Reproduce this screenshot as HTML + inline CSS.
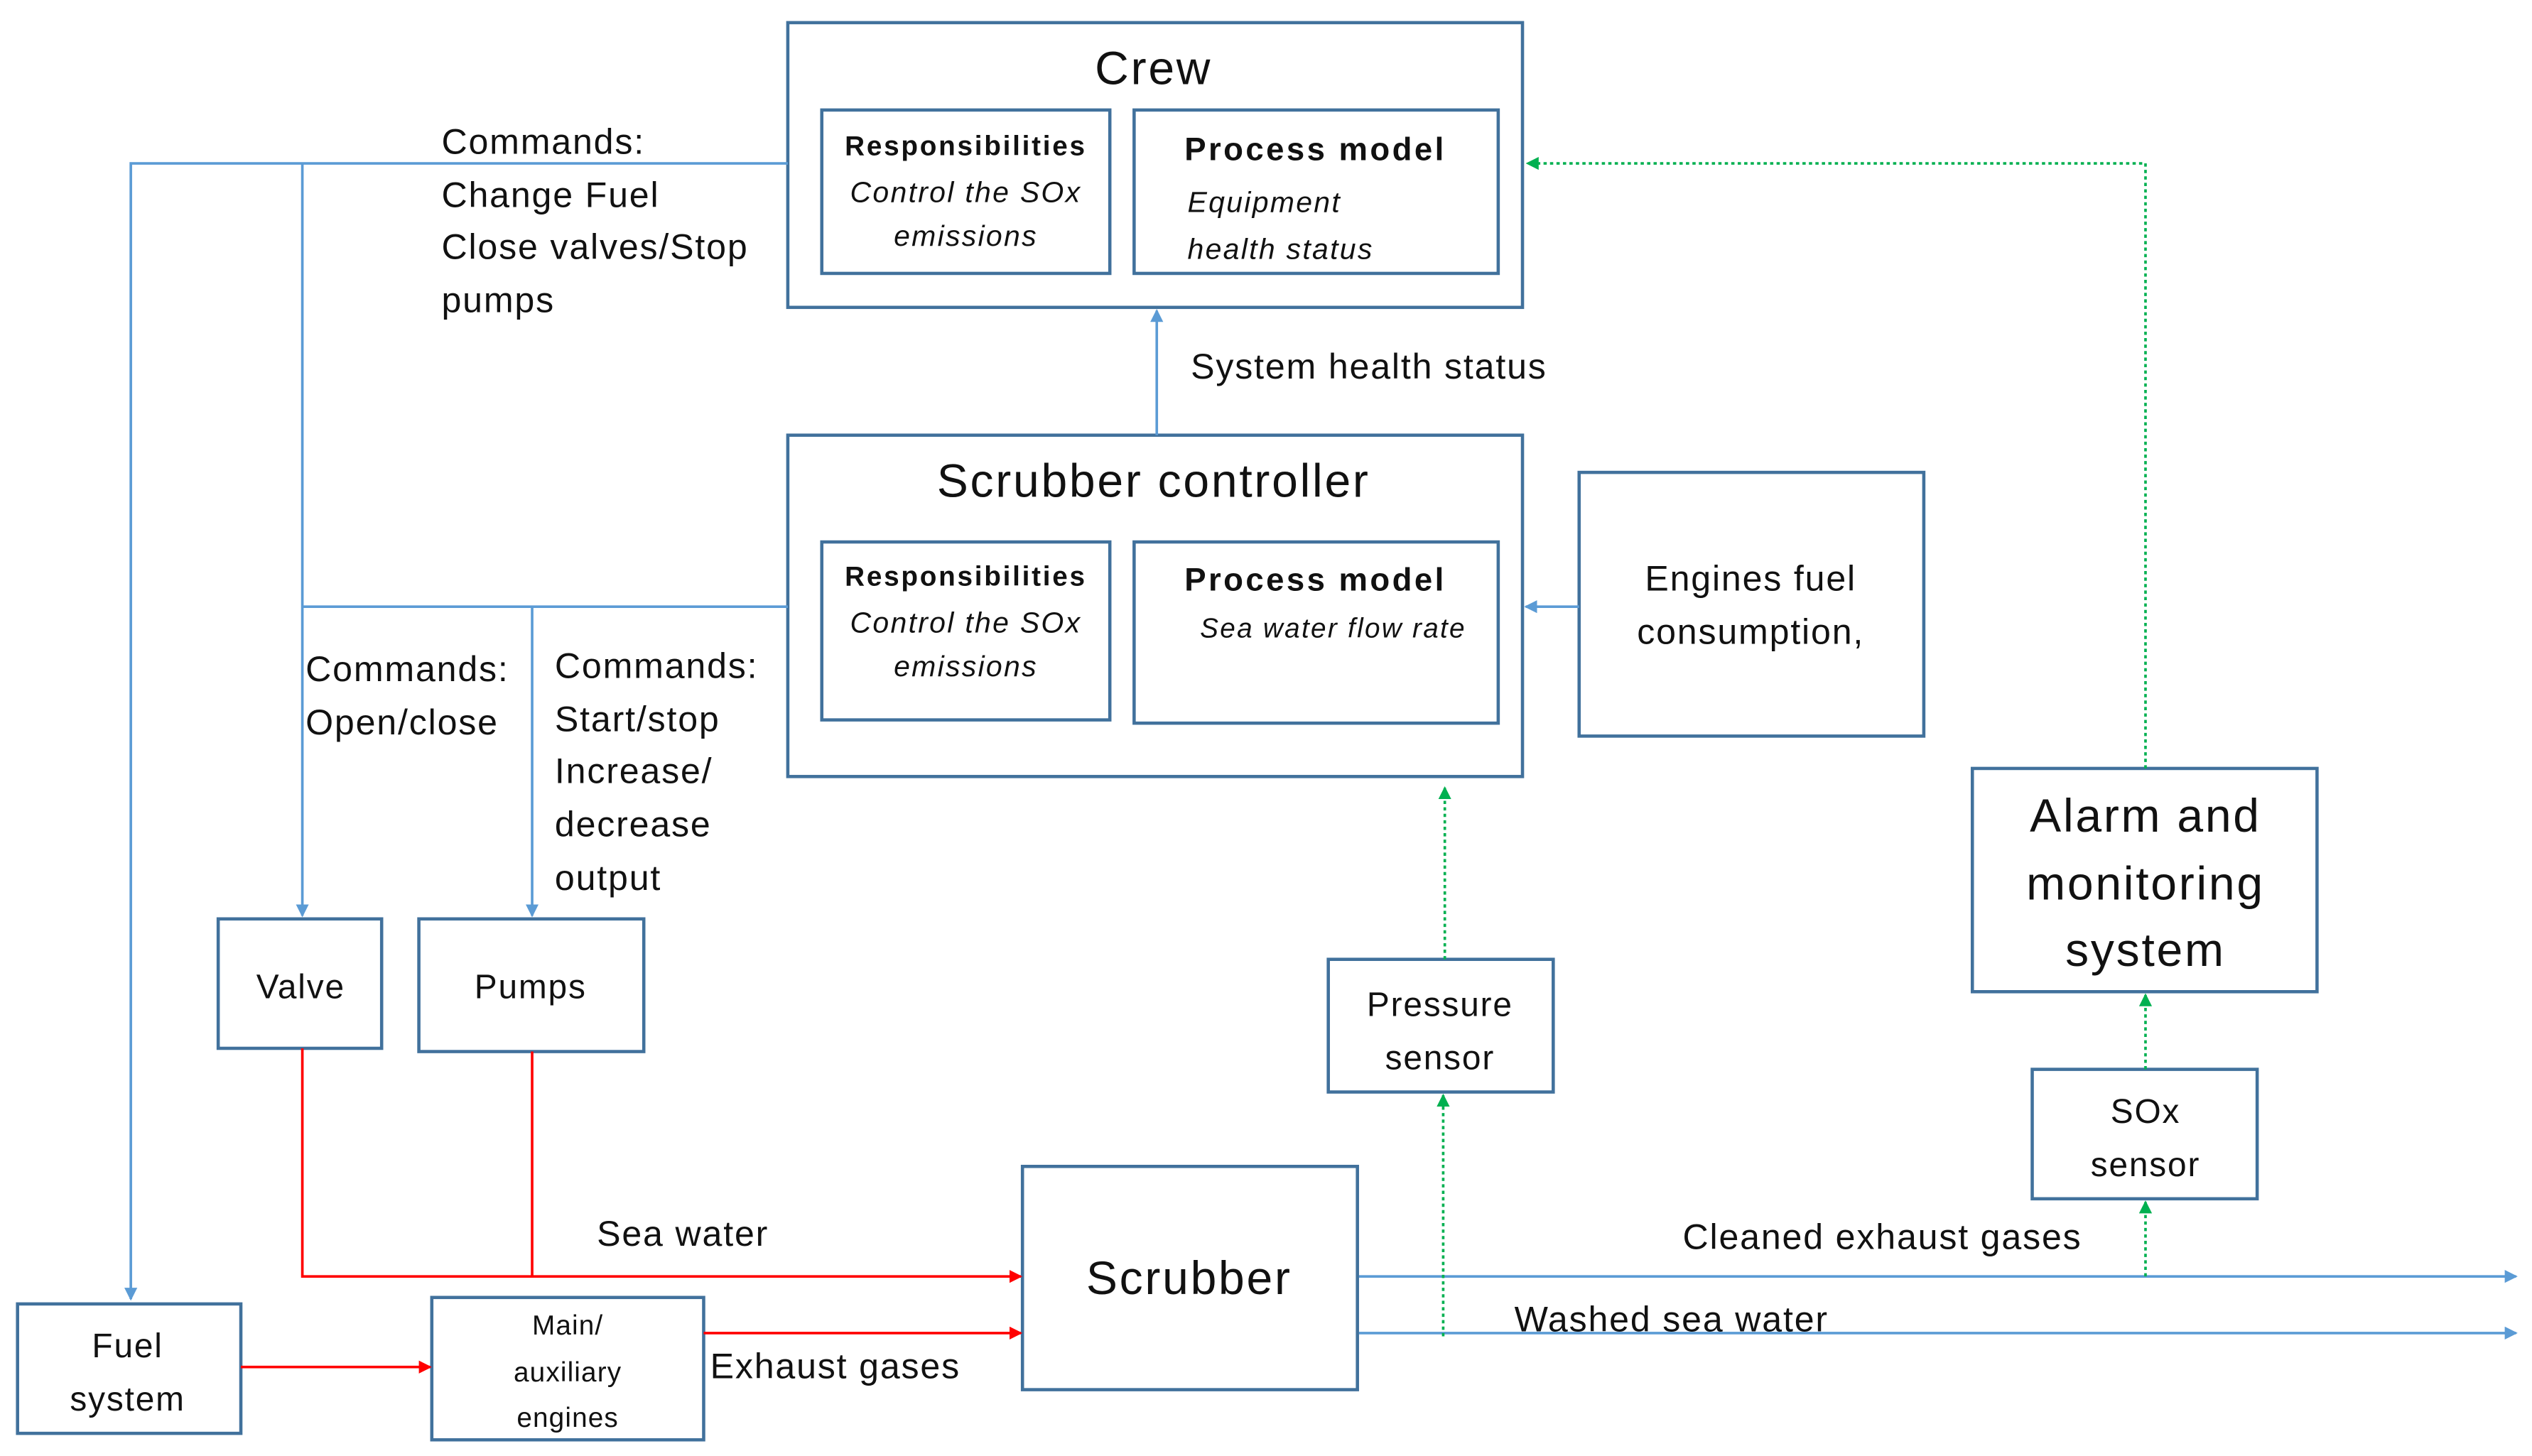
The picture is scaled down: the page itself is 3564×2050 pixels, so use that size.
<!DOCTYPE html>
<html><head><meta charset="utf-8"><style>html,body{margin:0;padding:0;background:#fff}svg{display:block}text{font-family:"Liberation Sans",sans-serif;fill:#111}</style></head>
<body>
<svg width="3564" height="2050" viewBox="1.5 0 1564 900" xmlns="http://www.w3.org/2000/svg">
<defs>
<marker id="ab" markerWidth="8" markerHeight="8" refX="7" refY="4" orient="auto" markerUnits="userSpaceOnUse"><path d="M0,0 L8,4 L0,8 z" fill="#5b9bd5"/></marker>
<marker id="ag" markerWidth="8" markerHeight="8" refX="7" refY="4" orient="auto" markerUnits="userSpaceOnUse"><path d="M0,0 L8,4 L0,8 z" fill="#00b050"/></marker>
<marker id="ar" markerWidth="8" markerHeight="8" refX="7" refY="4" orient="auto" markerUnits="userSpaceOnUse"><path d="M0,0 L8,4 L0,8 z" fill="#ff0000"/></marker>
</defs>
<g fill="none" stroke="#41719c" stroke-width="2">
<rect x="488" y="14" width="454" height="176"/>
<rect x="509" y="68" width="178" height="101"/>
<rect x="702" y="68" width="225" height="101"/>
<rect x="488" y="269" width="454" height="211"/>
<rect x="509" y="335" width="178" height="110"/>
<rect x="702" y="335" width="225" height="112"/>
<rect x="977" y="292" width="213" height="163"/>
<rect x="1220" y="475" width="213" height="138"/>
<rect x="1257" y="661" width="139" height="80"/>
<rect x="822" y="593" width="139" height="82"/>
<rect x="633" y="721" width="207" height="138"/>
<rect x="136" y="568" width="101" height="80"/>
<rect x="260" y="568" width="139" height="82"/>
<rect x="12" y="806" width="138" height="80"/>
<rect x="268" y="802" width="168" height="88"/>
</g>
<g fill="none" stroke="#5b9bd5" stroke-width="1.6">
<polyline points="488,101 82,101 82,803" marker-end="url(#ab)"/>
<line x1="188" y1="101" x2="188" y2="566" marker-end="url(#ab)"/>
<line x1="488" y1="375" x2="188" y2="375"/>
<line x1="330" y1="375" x2="330" y2="566" marker-end="url(#ab)"/>
<line x1="716" y1="269" x2="716" y2="192" marker-end="url(#ab)"/>
<line x1="977" y1="375" x2="944" y2="375" marker-end="url(#ab)"/>
<line x1="841" y1="789" x2="1556" y2="789" marker-end="url(#ab)"/>
<line x1="841" y1="824" x2="1556" y2="824" marker-end="url(#ab)"/>
</g>
<g fill="none" stroke="#00b050" stroke-width="1.6" stroke-dasharray="2,2">
<line x1="894" y1="593" x2="894" y2="487" marker-end="url(#ag)"/>
<line x1="893" y1="826" x2="893" y2="677" marker-end="url(#ag)"/>
<line x1="1327" y1="789" x2="1327" y2="743" marker-end="url(#ag)"/>
<line x1="1327" y1="661" x2="1327" y2="615" marker-end="url(#ag)"/>
<polyline points="1327,475 1327,101 945,101" marker-end="url(#ag)"/>
</g>
<g fill="none" stroke="#ff0000" stroke-width="1.6">
<polyline points="188,648 188,789 632,789" marker-end="url(#ar)"/>
<line x1="330" y1="650" x2="330" y2="789"/>
<line x1="150" y1="845" x2="267" y2="845" marker-end="url(#ar)"/>
<line x1="436" y1="824" x2="632" y2="824" marker-end="url(#ar)"/>
</g>
<g text-anchor="middle">
<text x="714" y="52" font-size="29" letter-spacing="1.2">Crew</text>
<text x="598" y="96" font-size="17" font-weight="bold" letter-spacing="1.2">Responsibilities</text>
<text x="598" y="125" font-size="18" font-style="italic" letter-spacing="1">Control the SOx</text>
<text x="598" y="152" font-size="18" font-style="italic" letter-spacing="1">emissions</text>
<text x="814" y="99" font-size="20" font-weight="bold" letter-spacing="1.5">Process model</text>
<text x="714" y="307" font-size="29" letter-spacing="1.2">Scrubber controller</text>
<text x="598" y="362" font-size="17" font-weight="bold" letter-spacing="1.2">Responsibilities</text>
<text x="598" y="391" font-size="18" font-style="italic" letter-spacing="1">Control the SOx</text>
<text x="598" y="418" font-size="18" font-style="italic" letter-spacing="1">emissions</text>
<text x="814" y="365" font-size="20" font-weight="bold" letter-spacing="1.5">Process model</text>
<text x="825" y="394" font-size="17" font-style="italic" letter-spacing="1">Sea water flow rate</text>
<text x="1083" y="365" font-size="22" letter-spacing="0.8">Engines fuel</text>
<text x="1083" y="398" font-size="22" letter-spacing="0.8">consumption,</text>
<text x="1327" y="514" font-size="29" letter-spacing="1.2">Alarm and</text>
<text x="1327" y="556" font-size="29" letter-spacing="1.2">monitoring</text>
<text x="1327" y="597" font-size="29" letter-spacing="1.2">system</text>
<text x="1327" y="694" font-size="21" letter-spacing="0.8">SOx</text>
<text x="1327" y="727" font-size="21" letter-spacing="0.8">sensor</text>
<text x="891" y="628" font-size="21" letter-spacing="0.8">Pressure</text>
<text x="891" y="661" font-size="21" letter-spacing="0.8">sensor</text>
<text x="736" y="800" font-size="29" letter-spacing="1.2">Scrubber</text>
<text x="187" y="617" font-size="21" letter-spacing="0.8">Valve</text>
<text x="329" y="617" font-size="21" letter-spacing="0.8">Pumps</text>
<text x="80" y="839" font-size="21" letter-spacing="0.8">Fuel</text>
<text x="80" y="872" font-size="21" letter-spacing="0.8">system</text>
<text x="352" y="825" font-size="17" letter-spacing="0.5">Main/</text>
<text x="352" y="854" font-size="17" letter-spacing="0.5">auxiliary</text>
<text x="352" y="882" font-size="17" letter-spacing="0.5">engines</text>
</g>
<g font-size="22" letter-spacing="0.8">
<text x="735" y="131" font-size="18" font-style="italic" letter-spacing="1">Equipment</text>
<text x="735" y="160" font-size="18" font-style="italic" letter-spacing="1">health status</text>
<text x="274" y="95">Commands:</text>
<text x="274" y="128">Change Fuel</text>
<text x="274" y="160">Close valves/Stop</text>
<text x="274" y="193">pumps</text>
<text x="737" y="234">System health status</text>
<text x="190" y="421">Commands:</text>
<text x="190" y="454">Open/close</text>
<text x="344" y="419">Commands:</text>
<text x="344" y="452">Start/stop</text>
<text x="344" y="484">Increase/</text>
<text x="344" y="517">decrease</text>
<text x="344" y="550">output</text>
<text x="370" y="770">Sea water</text>
<text x="440" y="852">Exhaust gases</text>
<text x="1041" y="772">Cleaned exhaust gases</text>
<text x="937" y="823">Washed sea water</text>
</g>
</svg>
</body></html>
